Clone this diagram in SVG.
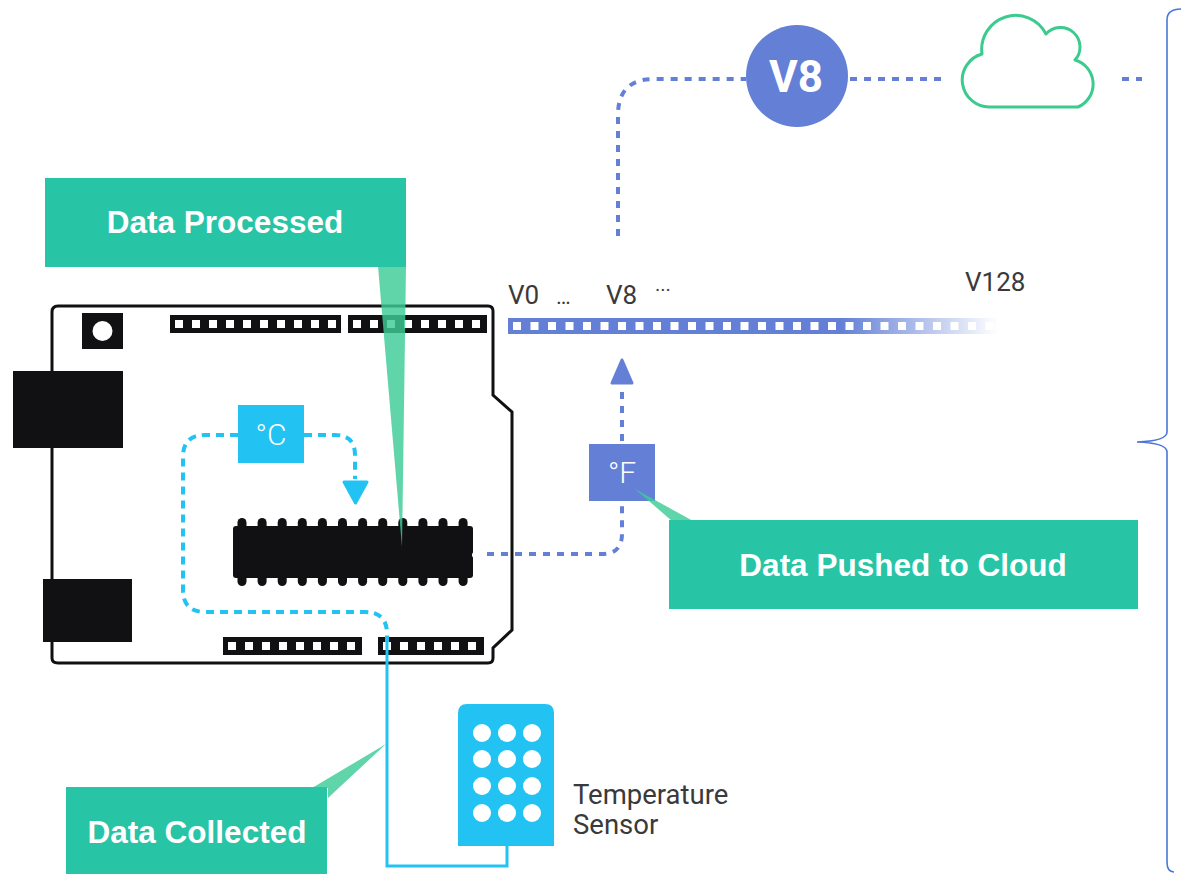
<svg xmlns="http://www.w3.org/2000/svg" width="1181" height="874" viewBox="0 0 1181 874">
  <defs>
    <style>
      .label { font-family: Roboto, "Open Sans", "DejaVu Sans", sans-serif; fill: #3a3a3a; }
      .callout-box { fill: #27c4a6; }
      .callout-tail { fill: #3ccc96; opacity: 0.82; }
      .callout-text { font-family: "Liberation Sans", Arial, sans-serif; font-weight: bold; font-size: 31.5px; fill: #ffffff; text-anchor: middle; }
      .black { fill: #111114; }
      .pin { fill: #ffffff; }
      .cyan-dash { fill: none; stroke: #22c3f3; stroke-width: 4; stroke-dasharray: 8 6; }
      .blue-dash { fill: none; stroke: #6380d6; stroke-width: 4; stroke-dasharray: 7 7; }
      .unit { font-family: Roboto, "DejaVu Sans", sans-serif; font-weight: 300; font-size: 30px; fill: #ffffff; text-anchor: middle; }
    </style>
    <linearGradient id="barFade" x1="508" y1="0" x2="998" y2="0" gradientUnits="userSpaceOnUse">
      <stop offset="0" stop-color="#6380d6"/>
      <stop offset="0.68" stop-color="#6380d6"/>
      <stop offset="1" stop-color="#6380d6" stop-opacity="0"/>
    </linearGradient>
  </defs>

  <rect width="1181" height="874" fill="#ffffff"/>

  <!-- Arduino board -->
  <g id="board">
    <path d="M52,312 Q52,306 58,306 L488,306 Q493,306 493,311 L493,395 L512,412 L512,630 L493,648 L493,658 Q493,663 488,663 L58,663 Q52,663 52,658 Z" fill="#ffffff" stroke="#111114" stroke-width="3"/>
    <!-- reset button -->
    <rect class="black" x="82" y="313" width="41" height="36"/>
    <circle cx="102.5" cy="331" r="10" fill="#ffffff"/>
    <!-- USB and power connectors -->
    <rect class="black" x="13" y="371" width="110" height="77"/>
    <rect class="black" x="43" y="579" width="89" height="63"/>
    <!-- top headers -->
    <rect class="black" x="170" y="315" width="171" height="18"/>
    <g class="pin">
      <rect x="175" y="320" width="8" height="8"/><rect x="192" y="320" width="8" height="8"/>
      <rect x="209" y="320" width="8" height="8"/><rect x="226" y="320" width="8" height="8"/>
      <rect x="243" y="320" width="8" height="8"/><rect x="260" y="320" width="8" height="8"/>
      <rect x="277" y="320" width="8" height="8"/><rect x="294" y="320" width="8" height="8"/>
      <rect x="311" y="320" width="8" height="8"/><rect x="328" y="320" width="8" height="8"/>
    </g>
    <rect class="black" x="348" y="315" width="139" height="18"/>
    <g class="pin">
      <rect x="353" y="320" width="8" height="8"/><rect x="370" y="320" width="8" height="8"/>
      <rect x="387" y="320" width="8" height="8"/><rect x="404" y="320" width="8" height="8"/>
      <rect x="421" y="320" width="8" height="8"/><rect x="438" y="320" width="8" height="8"/>
      <rect x="455" y="320" width="8" height="8"/><rect x="472" y="320" width="8" height="8"/>
    </g>
    <!-- bottom headers -->
    <rect class="black" x="223" y="637" width="139" height="18"/>
    <g class="pin">
      <rect x="228" y="642" width="8" height="8"/><rect x="245" y="642" width="8" height="8"/>
      <rect x="262" y="642" width="8" height="8"/><rect x="279" y="642" width="8" height="8"/>
      <rect x="296" y="642" width="8" height="8"/><rect x="313" y="642" width="8" height="8"/>
      <rect x="330" y="642" width="8" height="8"/><rect x="347" y="642" width="8" height="8"/>
    </g>
    <rect class="black" x="378" y="637" width="106" height="18"/>
    <g class="pin">
      <rect x="383" y="642" width="8" height="8"/><rect x="400" y="642" width="8" height="8"/>
      <rect x="417" y="642" width="8" height="8"/><rect x="434" y="642" width="8" height="8"/>
      <rect x="451" y="642" width="8" height="8"/><rect x="468" y="642" width="8" height="8"/>
    </g>
  </g>

  <!-- microcontroller chip -->
  <g id="chip" class="black">
    <rect x="233" y="526" width="240" height="52" rx="3"/>
    <g>
      <rect x="237.5" y="518" width="9" height="14" rx="4.5"/><rect x="257.6" y="518" width="9" height="14" rx="4.5"/>
      <rect x="277.7" y="518" width="9" height="14" rx="4.5"/><rect x="297.8" y="518" width="9" height="14" rx="4.5"/>
      <rect x="317.9" y="518" width="9" height="14" rx="4.5"/><rect x="338" y="518" width="9" height="14" rx="4.5"/>
      <rect x="358.1" y="518" width="9" height="14" rx="4.5"/><rect x="378.2" y="518" width="9" height="14" rx="4.5"/>
      <rect x="398.3" y="518" width="9" height="14" rx="4.5"/><rect x="418.4" y="518" width="9" height="14" rx="4.5"/>
      <rect x="438.5" y="518" width="9" height="14" rx="4.5"/><rect x="458.6" y="518" width="9" height="14" rx="4.5"/>
      <rect x="237.5" y="572" width="9" height="14" rx="4.5"/><rect x="257.6" y="572" width="9" height="14" rx="4.5"/>
      <rect x="277.7" y="572" width="9" height="14" rx="4.5"/><rect x="297.8" y="572" width="9" height="14" rx="4.5"/>
      <rect x="317.9" y="572" width="9" height="14" rx="4.5"/><rect x="338" y="572" width="9" height="14" rx="4.5"/>
      <rect x="358.1" y="572" width="9" height="14" rx="4.5"/><rect x="378.2" y="572" width="9" height="14" rx="4.5"/>
      <rect x="398.3" y="572" width="9" height="14" rx="4.5"/><rect x="418.4" y="572" width="9" height="14" rx="4.5"/>
      <rect x="438.5" y="572" width="9" height="14" rx="4.5"/><rect x="458.6" y="572" width="9" height="14" rx="4.5"/>
    </g>
    <circle cx="475" cy="555" r="3" fill="#ffffff"/>
  </g>

  <!-- virtual pin bar -->
  <g id="virtual-pins">
    <rect x="508" y="318" width="490" height="16" fill="url(#barFade)"/>
    <g class="pin">
      <rect x="513" y="322" width="8" height="8"/><rect x="530.5" y="322" width="8" height="8"/>
      <rect x="548" y="322" width="8" height="8"/><rect x="565.5" y="322" width="8" height="8"/>
      <rect x="583" y="322" width="8" height="8"/><rect x="600.5" y="322" width="8" height="8"/>
      <rect x="618" y="322" width="8" height="8"/><rect x="635.5" y="322" width="8" height="8"/>
      <rect x="653" y="322" width="8" height="8"/><rect x="670.5" y="322" width="8" height="8"/>
      <rect x="688" y="322" width="8" height="8"/><rect x="705.5" y="322" width="8" height="8"/>
      <rect x="723" y="322" width="8" height="8"/><rect x="740.5" y="322" width="8" height="8"/>
      <rect x="758" y="322" width="8" height="8"/><rect x="775.5" y="322" width="8" height="8"/>
      <rect x="793" y="322" width="8" height="8"/><rect x="810.5" y="322" width="8" height="8"/>
      <rect x="828" y="322" width="8" height="8"/><rect x="845.5" y="322" width="8" height="8"/>
      <rect x="863" y="322" width="8" height="8"/><rect x="880.5" y="322" width="8" height="8"/>
      <rect x="898" y="322" width="8" height="8"/><rect x="915.5" y="322" width="8" height="8"/>
      <rect x="933" y="322" width="8" height="8"/><rect x="950.5" y="322" width="8" height="8"/>
      <rect x="968" y="322" width="8" height="8"/><rect x="985.5" y="322" width="8" height="8"/>
    </g>
    <text class="label" x="508" y="304" font-size="26">V0</text>
    <text class="label" x="556" y="304" font-size="22">…</text>
    <text class="label" x="606" y="304" font-size="26">V8</text>
    <text class="label" x="655" y="297" font-size="20">···</text>
    <text class="label" x="965" y="291" font-size="26">V128</text>
  </g>

  <!-- data flow connectors -->
  <g id="connectors">
    <path class="cyan-dash" d="M238,435 L205,435 Q183,435 183,457 L183,590 Q183,612 205,612 L365,612 Q387,612 387,634 L387,642"/>
    <path class="cyan-dash" d="M304,435 L335,435 Q355,435 355,455 L355,479"/>
    <polygon points="344,482 367,482 355.5,503" fill="#22c3f3" stroke="#22c3f3" stroke-width="3" stroke-linejoin="round"/>
    <path d="M387,640 L387,866 L507,866 L507,846" fill="none" stroke="#22c3f3" stroke-width="3"/>
    <path class="blue-dash" d="M487,554 L602,554 Q622,554 622,534 L622,503"/>
    <path class="blue-dash" d="M622,441 L622,385"/>
    <polygon points="612,383 632,383 622,360" fill="#6380d6" stroke="#6380d6" stroke-width="3" stroke-linejoin="round"/>
    <path class="blue-dash" d="M618,236 L618,115 Q618,79 654,79 L746,79"/>
    <path class="blue-dash" d="M850,79 L941,79"/>
    <path class="blue-dash" d="M1122,79 L1142,79"/>
  </g>

  <!-- temperature in Celsius -->
  <g id="celsius">
    <rect x="238" y="405" width="66" height="58" fill="#22c3f3"/>
    <text class="unit" x="271" y="445">°C</text>
  </g>

  <!-- temperature in Fahrenheit -->
  <g id="fahrenheit">
    <rect x="589" y="444" width="66" height="57" fill="#6380d6"/>
    <text class="unit" x="622" y="483">°F</text>
  </g>

  <!-- virtual pin V8 -->
  <g id="v8">
    <circle cx="797" cy="76" r="51" fill="#6380d6"/>
    <text x="796" y="92" font-family="Roboto, 'DejaVu Sans', sans-serif" font-weight="bold" font-size="44" fill="#ffffff" text-anchor="middle">V8</text>
  </g>

  <!-- cloud -->
  <g id="cloud">
    <path d="M990,107 A27,27 0 0 1 982,54 A34,34 0 0 1 1046,34 A19,19 0 0 1 1075,60 A25,25 0 0 1 1078,107 Z" fill="#ffffff" stroke="#3ccb8f" stroke-width="3" stroke-linejoin="round"/>
  </g>

  <!-- temperature sensor -->
  <g id="sensor">
    <path d="M458,846 L458,713 Q458,704 467,704 L545,704 Q554,704 554,713 L554,846 Z" fill="#22c3f3"/>
    <g fill="#ffffff">
      <circle cx="482" cy="733" r="9"/><circle cx="507" cy="733" r="9"/><circle cx="532" cy="733" r="9"/>
      <circle cx="482" cy="759" r="9"/><circle cx="507" cy="759" r="9"/><circle cx="532" cy="759" r="9"/>
      <circle cx="482" cy="786" r="9"/><circle cx="507" cy="786" r="9"/><circle cx="532" cy="786" r="9"/>
      <circle cx="482" cy="813" r="9"/><circle cx="507" cy="813" r="9"/><circle cx="532" cy="813" r="9"/>
    </g>
    <text class="label" x="573" y="804" font-size="27.5">Temperature</text>
    <text class="label" x="573" y="834" font-size="27.5">Sensor</text>
  </g>

  <!-- brace grouping the board side -->
  <g id="brace">
    <path d="M1181,9 Q1167,9 1167,20 L1167,432 Q1167,441 1137,442 Q1167,443 1167,452 L1167,862 Q1167,872 1174,872" fill="none" stroke="#4a76d8" stroke-width="1.6"/>
  </g>

  <!-- callouts -->
  <g id="callout-processed">
    <polygon class="callout-tail" points="378,266 406,266 402,547"/>
    <rect class="callout-box" x="45" y="178" width="361" height="89"/>
    <text class="callout-text" x="225" y="233">Data Processed</text>
  </g>

  <g id="callout-pushed">
    <polygon class="callout-tail" points="635,489 672,521 693,521"/>
    <rect class="callout-box" x="669" y="520" width="469" height="89"/>
    <text class="callout-text" x="903" y="576">Data Pushed to Cloud</text>
  </g>

  <g id="callout-collected">
    <polygon class="callout-tail" points="386,744 312,788 328,788 328,798"/>
    <rect class="callout-box" x="66" y="787" width="261" height="87"/>
    <text class="callout-text" x="197" y="843">Data Collected</text>
  </g>
</svg>
